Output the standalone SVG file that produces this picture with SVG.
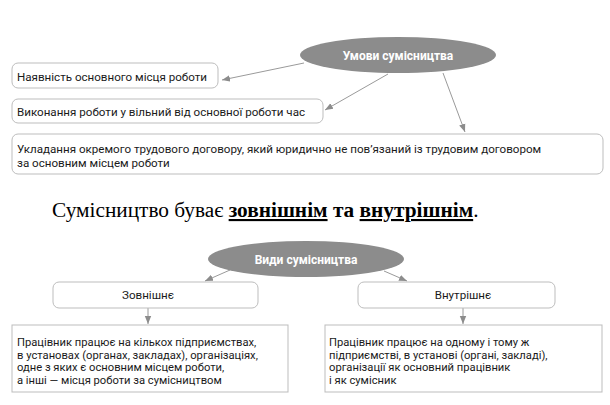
<svg xmlns="http://www.w3.org/2000/svg" width="610" height="405" viewBox="0 0 610 405">
<style>
.box{fill:#fff;stroke:#bdbdbd;stroke-width:1}
.ell{fill:#8c8c8c}
.t{font-family:Roboto,"Liberation Sans",sans-serif;font-size:11.6px;fill:#1a1a1a}
.tb{font-family:Roboto,"Liberation Sans",sans-serif;font-size:11.2px;fill:#1a1a1a}
.et{font-family:Roboto,"Liberation Sans",sans-serif;font-size:12px;font-weight:bold;fill:#fff}
.c{stroke:#9a9a9a;stroke-width:1;fill:none;marker-end:url(#ah)}
.s{font-family:"Liberation Serif","Times New Roman",serif;font-size:21.3px;fill:#000}
</style>
<defs>
<marker id="ah" viewBox="0 0 10 10" refX="10" refY="5" markerWidth="8" markerHeight="8" markerUnits="userSpaceOnUse" orient="auto">
<path d="M0,1 L10,5 L0,9 z" fill="#8c8c8c"/>
</marker>
</defs>
<rect width="610" height="405" fill="#fff"/>
<g id="connectors">
<line class="c" x1="304" y1="63" x2="222" y2="80"/>
<line class="c" x1="388" y1="74" x2="325" y2="110"/>
<line class="c" x1="443" y1="73" x2="465" y2="132"/>
<line class="c" x1="230" y1="270" x2="205" y2="281"/>
<line class="c" x1="384" y1="271" x2="407" y2="281"/>
<line class="c" x1="148" y1="308" x2="148" y2="324"/>
<line class="c" x1="463" y1="308" x2="463" y2="324"/>
</g>
<g id="umovy">
<ellipse class="ell" cx="398" cy="55" rx="98" ry="18"/>
<text class="et" x="398" y="60" text-anchor="middle">Умови сумісництва</text>
</g>
<g id="n1">
<rect class="box" x="12" y="63" width="206" height="25" rx="6"/>
<text class="t" x="17" y="81">Наявність основного місця роботи</text>
</g>
<g id="n2">
<rect class="box" x="12" y="99" width="311" height="24" rx="6"/>
<text class="t" x="17" y="116">Виконання роботи у вільний від основної роботи час</text>
</g>
<g id="n3">
<rect class="box" x="12" y="134" width="591" height="40" rx="6"/>
<text class="t" x="17" y="153">Укладання окремого трудового договору, який юридично не пов’язаний із трудовим договором</text>
<text class="t" x="17" y="167">за основним місцем роботи</text>
</g>
<g id="sentence">
<text class="s" x="52" y="217">Сумісництво буває <tspan font-weight="bold" text-decoration="underline">зовнішнім</tspan><tspan font-weight="bold"> та </tspan><tspan font-weight="bold" text-decoration="underline">внутрішнім</tspan>.</text>
</g>
<g id="vydy">
<ellipse class="ell" cx="306" cy="259" rx="98" ry="18"/>
<text class="et" x="306" y="264" text-anchor="middle">Види сумісництва</text>
</g>
<g id="zovn">
<rect class="box" x="53" y="282" width="205" height="26" rx="6"/>
<text class="t" x="148" y="299" text-anchor="middle">Зовнішнє</text>
</g>
<g id="vnutr">
<rect class="box" x="358" y="282" width="197" height="26" rx="6"/>
<text class="t" x="463" y="299" text-anchor="middle">Внутрішнє</text>
</g>
<g id="zovn-desc">
<rect class="box" x="12" y="325" width="276" height="67"/>
<text class="tb" x="17" y="346">Працівник працює на кількох підприємствах,</text>
<text class="tb" x="17" y="358.5">в установах (органах, закладах), організаціях,</text>
<text class="tb" x="17" y="371">одне з яких є основним місцем роботи,</text>
<text class="tb" x="17" y="383.5">а інші — місця роботи за сумісництвом</text>
</g>
<g id="vnutr-desc">
<rect class="box" x="325" y="325" width="277" height="67"/>
<text class="tb" x="329" y="346">Працівник працює на одному і тому ж</text>
<text class="tb" x="329" y="358.5">підприємстві, в установі (органі, закладі),</text>
<text class="tb" x="329" y="371">організації як основний працівник</text>
<text class="tb" x="329" y="383.5">і як сумісник</text>
</g>
</svg>
